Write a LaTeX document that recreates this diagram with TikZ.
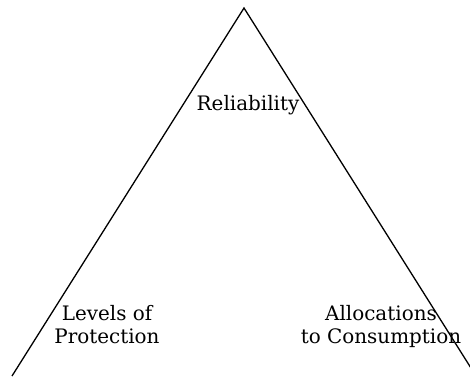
\documentclass[tikz,border=0pt]{standalone}
\usepackage{fontspec}
\setmainfont{DejaVu Serif}
\begin{document}
\begin{tikzpicture}[x=1bp,y=1bp,
  lbl/.style={font=\fontsize{20}{23}\selectfont, align=center, inner sep=0pt, anchor=base},
  edge/.style={draw=black, line width=1.3bp}]
\useasboundingbox (0,0) rectangle (470,376);
\clip (0,0) rectangle (470,376);
\coordinate (apex) at (244,368);
\coordinate (bl) at (12,0);
\coordinate (br) at (476,0);
\draw[edge] (bl) -- (apex) -- (br);
\node[lbl] (rel) at (248,266) {Reliability};
\node[lbl] (lev) at (107,33) {Levels of\\Protection};
\node[lbl] (all) at (381,33) {Allocations\\to Consumption};
\end{tikzpicture}
\end{document}
